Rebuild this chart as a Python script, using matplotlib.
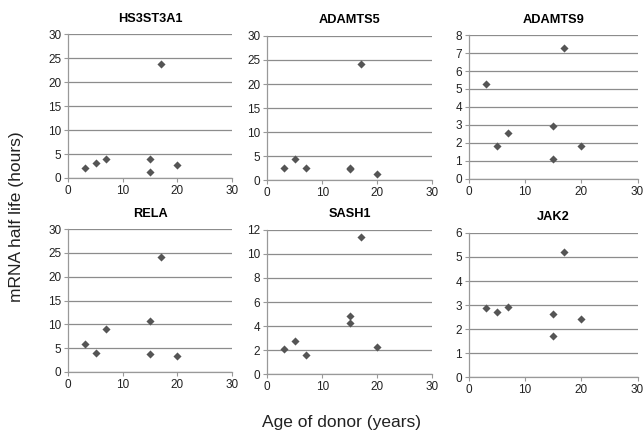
import matplotlib.pyplot as plt

plt.rcParams['font.family'] = ['Liberation Sans', 'DejaVu Sans']

# donor ages (years)
age = [3, 5, 7, 15, 15, 17, 20]

genes = ["HS3ST3A1", "ADAMTS5", "ADAMTS9", "RELA", "SASH1", "JAK2"]

hs3st3a1 = [2.0, 3.1, 4.05, 4.05, 1.2, 23.8, 2.65]
adamts5 = [2.55, 4.3, 2.45, 2.5, 2.3, 24.1, 1.3]
adamts9 = [5.3, 1.85, 2.55, 2.93, 1.13, 7.3, 1.8]
rela = [5.8, 4.05, 9.1, 10.6, 3.8, 24.1, 3.45]
sash1 = [2.06, 2.78, 1.56, 4.86, 4.22, 11.4, 2.22]
jak2 = [2.86, 2.71, 2.93, 2.64, 1.70, 5.19, 2.42]

half_lives = [hs3st3a1, adamts5, adamts9, rela, sash1, jak2]
y_max = [30, 30, 8, 30, 12, 6]
y_step = [5, 5, 1, 5, 2, 1]

# axes boxes in figure fractions [left, bottom, width, height]
boxes = [
    [0.106, 0.589, 0.254, 0.332],
    [0.415, 0.584, 0.256, 0.333],
    [0.728, 0.587, 0.262, 0.332],
    [0.106, 0.141, 0.254, 0.330],
    [0.415, 0.136, 0.256, 0.333],
    [0.728, 0.129, 0.262, 0.333],
]

fig = plt.figure(figsize=(6.44, 4.33), dpi=100)

for gene, vals, ym, st, box in zip(genes, half_lives, y_max, y_step, boxes):
    ax = fig.add_axes(box)
    ax.scatter(age, vals, marker='D', s=17, color='#555555', zorder=3, linewidths=0)
    ax.set_xlim(0, 30)
    ax.set_ylim(0, ym)
    ax.set_xticks([0, 10, 20, 30])
    ax.set_yticks(range(0, ym + 1, st))
    ax.grid(axis='y', color='#8c8c8c', linewidth=0.9)
    ax.set_axisbelow(True)
    for s in ['top', 'right']:
        ax.spines[s].set_visible(False)
    for s in ['left', 'bottom']:
        ax.spines[s].set_color('#999999')
        ax.spines[s].set_linewidth(0.9)
    ax.tick_params(labelsize=8.5, color='#999999', length=3, width=0.8,
                   labelcolor='#222222', pad=2)
    ax.set_title(gene, fontsize=9.2, fontweight='bold', pad=9)

fig.text(0.025, 0.5, "mRNA half life (hours)", rotation=90,
         va='center', ha='center', fontsize=12.5, color='#222222')
fig.text(0.53, 0.025, "Age of donor (years)", ha='center', va='center',
         fontsize=12.5, color='#222222')

fig.savefig("out.png", dpi=100)
